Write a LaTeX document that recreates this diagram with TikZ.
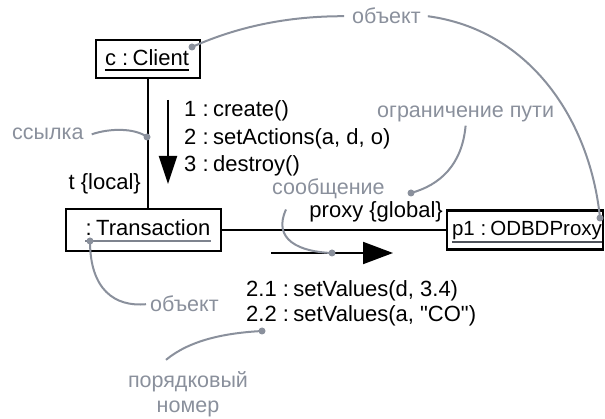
\documentclass[tikz,border=0pt]{standalone}
\usepackage{fontspec}
\setmainfont{Liberation Sans}[Ligatures=TeXOff]
\usetikzlibrary{arrows.meta}
\definecolor{note}{HTML}{8A909C}
\definecolor{ulgray}{HTML}{7E838E}
\definecolor{uldark}{HTML}{4E525A}
\newcommand\cln{:\hspace{0.2em}}
\begin{document}
\begin{tikzpicture}[x=1pt,y=-1pt,
  font=\fontsize{22}{26}\selectfont,
  box/.style={draw, line width=2.5pt, inner sep=0pt},
  link/.style={line width=2pt},
  ann/.style={draw=note, line width=2pt},
  anntext/.style={text=note, inner sep=0pt, anchor=base west, font=\fontsize{21.5}{26}\selectfont},
  lbl/.style={inner sep=0pt, anchor=base west},
  dotmark/.style={circle, fill=note, inner sep=0pt, minimum size=7pt},
  msg/.style={line width=2pt, -{Triangle[length=30pt,width=22pt]}},
  ulsty/.style={line width=1.4pt}
]
\useasboundingbox (0,0) rectangle (605,419);

% object boxes
\node[box, minimum width=104pt, minimum height=38pt] (client) at (148,59) {};
\node[box, minimum width=155pt, minimum height=42pt] (trans) at (143.5,230) {};
\node[box, minimum width=156pt, minimum height=39pt] (proxy) at (525,230) {};

% box texts with underlines
\node[inner sep=0pt, anchor=base] (clientT) at (147,66) {c \cln Client};
\node[inner sep=0pt, anchor=base] (transT) at (148,236) {\cln Transaction};
\node[inner sep=0pt, anchor=base, font=\fontsize{20.5}{24}\selectfont] (proxyT) at (527,236) {p1 \cln ODBDProxy};
\draw[ulsty, black] ([yshift=-4pt]clientT.base west) -- ([yshift=-4pt]clientT.base east);
\draw[ulsty, ulgray] ([yshift=-5pt]transT.base west) -- ([yshift=-5pt]transT.base east);
\draw[ulsty, uldark] ([yshift=-6pt]proxyT.base west) -- ([yshift=-6pt]proxyT.base east);

% links
\draw[link] (client.south) -- (client.south |- trans.north);
\draw[link] (trans.east) -- (proxy.west);

% link role labels
\node[inner sep=0pt, anchor=base east] (tl) at (141,190) {t \{local\}};
\node[inner sep=0pt, anchor=base east] (pg) at (443,218) {proxy \{global\}};

% messages
\coordinate (m1s) at (168,100);
\coordinate (m1e) at (168,184);
\draw[line width=2pt, -{Triangle[length=28pt,width=18pt]}] (m1s) -- (m1e);
\coordinate (m2s) at (271,253);
\coordinate (m2e) at (393,253);
\draw[msg] (m2s) -- (m2e);

\node[lbl] (t1) at (184,117) {1 \cln create()};
\node[lbl] (t2) at (184,145) {2 \cln setActions(a, d, o)};
\node[lbl] (t3) at (184,172) {3 \cln destroy()};
\node[lbl] (s1) at (246,297) {2.1 \cln setValues(d, 3.4)};
\node[lbl] (s2) at (246,322) {2.2 \cln setValues(a, "CO")};

% annotation texts
\node[anntext] (objTop) at (352,24) {объект};
\node[anntext] (objLow) at (150,312) {объект};
\node[anntext] (linkN) at (12,140) {ссылка};
\node[anntext] (pathN) at (377,118) {ограничение пути};
\node[anntext] (msgN) at (272,195) {сообщение};
\node[text=note, inner sep=0pt, anchor=base, font=\fontsize{21.5}{26}\selectfont] (ord1) at (188,388) {порядковый};
\node[text=note, inner sep=0pt, anchor=base, font=\fontsize{21.5}{26}\selectfont] (ord2) at (188,413) {номер};

% annotation dots
\node[dotmark] (d1) at (192,47) {};
\node[dotmark] (d2) at (600,218) {};
\node[dotmark] (d3) at (147,137) {};
\node[dotmark] (d4) at (411,193) {};
\node[dotmark] (d5) at (332,253) {};
\node[dotmark] (d6) at (90,241) {};
\node[dotmark] (d7) at (262,331) {};

% annotation connectors
\draw[ann] (d1.center) .. controls (230,30) and (280,16) .. ([xshift=-8pt]objTop.west);
\draw[ann] ([xshift=7pt]objTop.east) .. controls (530,30) and (590,120) .. (d2.center);
\draw[ann] ([xshift=8pt]linkN.east) .. controls (110,128) and (135,128) .. (d3.center);
\draw[ann] ([yshift=-3pt]pathN.south) .. controls (462,165) and (440,185) .. (d4.center);
\draw[ann] ([xshift=14pt,yshift=-10pt]msgN.south west) .. controls (272,240) and (300,252) .. (d5.center);
\draw[ann] (d6.center) .. controls (90,290) and (115,307) .. ([xshift=-4pt]objLow.west);
\draw[ann] ([xshift=-22pt,yshift=12pt]ord1.north) .. controls (190,340) and (225,333) .. (d7.center);
\end{tikzpicture}
\end{document}
